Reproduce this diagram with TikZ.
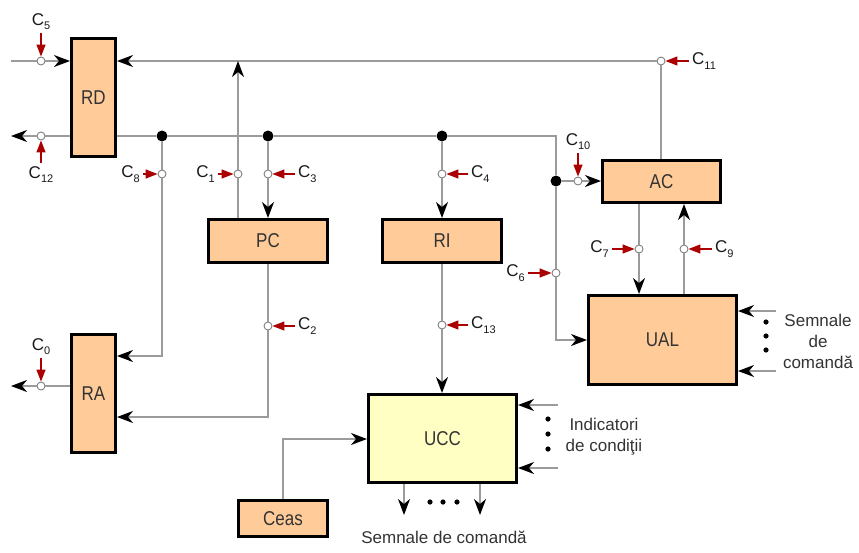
\documentclass[tikz,border=0pt]{standalone}
\usepackage{fontspec}
\setmainfont{Liberation Sans}
\newfontfamily\boxfont{Liberation Sans}[FakeStretch=0.85]
\usetikzlibrary{arrows.meta,calc}
\definecolor{regfill}{RGB}{255,204,153}
\definecolor{uccfill}{RGB}{255,255,196}
\definecolor{wiregray}{RGB}{155,155,155}
\definecolor{ctrlred}{RGB}{170,0,0}
\definecolor{textgray}{RGB}{51,51,51}
\newcommand{\ctl}[1]{C\raisebox{-0.5ex}{\fontsize{11}{11}\selectfont #1}}

\begin{document}
\begin{tikzpicture}[x=1pt,y=-1pt,
  reg/.style={draw=black,line width=3pt,fill=regfill,text=textgray,font=\boxfont\fontsize{20}{20}\selectfont,inner sep=0pt},
  wire/.style={draw=wiregray,line width=1.5pt},
  busarrow/.style={-{Stealth[color=black,length=16pt,width=12pt,inset=5pt]}},
  ctrl/.style={draw=ctrlred,line width=1.3pt,-{Triangle[length=12pt,width=9pt]}},
  gate/.style={circle,draw=gray,fill=white,line width=0.9pt,minimum size=8pt,inner sep=0pt},
  joint/.style={circle,fill=black,minimum size=11pt,inner sep=0pt},
  clabel/.style={font=\fontsize{17}{17}\selectfont,text=black!90,inner sep=3pt},
  note/.style={font=\fontsize{17}{21}\selectfont,text=textgray,align=center}]
\useasboundingbox (0,0) rectangle (859,552);

% registers and units
\node[reg,minimum width=44pt,minimum height=118pt] (RD) at (93.5,97.5) {RD};
\node[reg,minimum width=44pt,minimum height=118pt] (RA) at (93.5,393.5) {RA};
\node[reg,minimum width=119pt,minimum height=43pt] (PC) at (268,241) {PC};
\node[reg,minimum width=119pt,minimum height=43pt] (RI) at (442,241) {RI};
\node[reg,minimum width=118pt,minimum height=42pt] (AC) at (661.5,181.5) {AC};
\node[reg,minimum width=148pt,minimum height=89pt] (UAL) at (662.5,340) {UAL};
\node[reg,fill=uccfill,minimum width=148pt,minimum height=88pt] (UCC) at (442.5,438.5) {UCC};
\node[reg,minimum width=89pt,minimum height=36pt] (Ceas) at (283,518.5) {Ceas};

% gates and joints
\foreach \n/\x/\y in {5/41/61, 12/41/136, 8/162/174, 1/238/174, 3/268/174, 4/442/174,
  10/578/181, 6/556/273, 11/661/61, 7/639/249, 9/684/249, 13/442/325, 2/268/326, 0/41/386}
  \node[gate] (g\n) at (\x,\y) {};
\node[joint] (j1) at (162,136) {};
\node[joint] (j2) at (268,136) {};
\node[joint] (j3) at (442,136) {};
\node[joint] (j4) at (556,181) {};

\coordinate (in5) at (11,61);
\coordinate (out12) at (11,136);
\coordinate (out0) at (11,386);
\coordinate (t1) at (238,61);
\coordinate (b1) at (556,136);
\coordinate (c8) at (162,356);
\coordinate (c2) at (268,417);
\coordinate (c6) at (556,340);
\coordinate (cc) at (283,439);
\coordinate (s1) at (776,311);
\coordinate (s2) at (776,371);
\coordinate (i1) at (558,405);
\coordinate (i2) at (558,468);
\coordinate (o1) at (404,515);
\coordinate (o2) at (480,515);

% data paths
\draw[wire] (in5) -- (g5);
\draw[wire,busarrow] (g5) -- (RD.west |- g5);
\draw[wire,busarrow] (AC.north -| g11) -- (g11) -- (RD.east |- g11);
\draw[wire,busarrow] (PC.north -| g1) -- (g1) -- (t1);
\draw[wire,busarrow] (RD.west |- g12) -- (g12) -- (out12);
\draw[wire,busarrow] (RD.east |- j1) -- (j1) -- (j2) -- (j3) -- (b1) -- (j4) -- (g6) -- (c6) -- (UAL.west |- c6);
\draw[wire,busarrow] (j1) -- (g8) -- (c8) -- (RA.east |- c8);
\draw[wire,busarrow] (j2) -- (g3) -- (PC.north);
\draw[wire,busarrow] (j3) -- (g4) -- (RI.north);
\draw[wire,busarrow] (j4) -- (g10) -- (AC.west |- g10);
\draw[wire,busarrow] (PC.south) -- (g2) -- (c2) -- (RA.east |- c2);
\draw[wire,busarrow] (RI.south) -- (g13) -- (UCC.north -| g13);
\draw[wire,busarrow] (AC.south -| g7) -- (g7) -- (UAL.north -| g7);
\draw[wire,busarrow] (UAL.north -| g9) -- (g9) -- (AC.south -| g9);
\draw[wire,busarrow] (RA.west |- g0) -- (g0) -- (out0);
\draw[wire,busarrow] (Ceas.north) -- (cc) -- (UCC.west |- cc);
\draw[wire,busarrow] (s1) -- (UAL.east |- s1);
\draw[wire,busarrow] (s2) -- (UAL.east |- s2);
\draw[wire,busarrow] (i1) -- (UCC.east |- i1);
\draw[wire,busarrow] (i2) -- (UCC.east |- i2);
\draw[wire,busarrow] (UCC.south -| o1) -- (o1);
\draw[wire,busarrow] (UCC.south -| o2) -- (o2);

% control signals
\foreach \n/\dx/\dy/\side in {5/0/-28/south, 12/0/27/north, 8/-19/0/east, 1/-20/0/east,
  3/27/0/west, 4/26/0/west, 10/0/-28/south, 6/-28/0/east, 11/28/0/west, 7/-27/0/east,
  9/28/0/west, 13/26/0/west, 2/27/0/west, 0/0/-28/south}
{
  \coordinate (s\n) at ($(g\n)+(\dx,\dy)$);
  \draw[ctrl] (s\n) -- (g\n);
  \node[clabel,anchor=\side] at (s\n) {\ctl{\n}};
}

% ellipsis dots
\foreach \y in {322,336,350} \fill (766,\y) circle (2.6pt);
\foreach \y in {419,434,449} \fill (548,\y) circle (2.6pt);
\foreach \x in {430,443,457} \fill (\x,502) circle (2.6pt);

\node[note] (sualtext) at (818,341) {Semnale\\de\\comandă};
\node[note] (indtext) at (604,437) {Indicatori\\de condiţii};
\node[note] (suctext) at (444,537) {Semnale de comandă};
\end{tikzpicture}
\end{document}
